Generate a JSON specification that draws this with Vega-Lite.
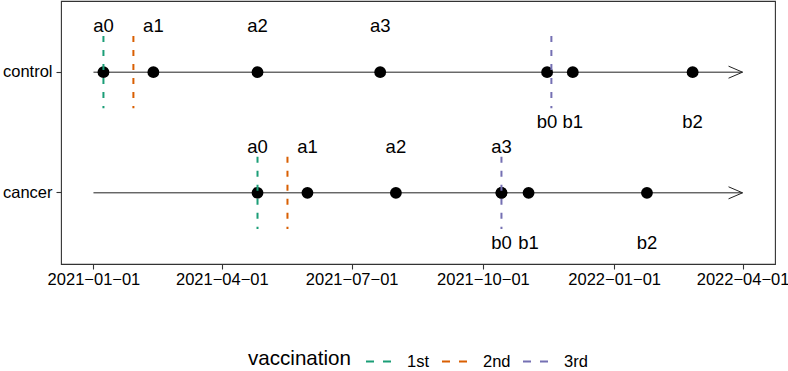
{
  "$schema": "https://vega.github.io/schema/vega-lite/v6.json",
  "width": 714,
  "height": 263,
  "autosize": {"type": "none"},
  "padding": {"left": 61, "top": 1, "right": 13, "bottom": 107},
  "background": "white",
  "config": {
    "font": "Liberation Sans",
    "view": {"stroke": "#333333", "strokeWidth": 1.1},
    "axis": {
      "domain": false,
      "grid": false,
      "tickColor": "#333333",
      "tickSize": 5,
      "tickWidth": 1.1,
      "labelColor": "#000000",
      "labelFontSize": 16.5,
      "title": null
    },
    "legend": {
      "orient": "none",
      "legendX": 187,
      "legendY": 347,
      "direction": "horizontal",
      "titleOrient": "left",
      "titleFontSize": 20.6,
      "titleFontWeight": "normal",
      "titleColor": "#000000",
      "titleBaseline": "middle",
      "labelFontSize": 16.5,
      "labelColor": "#000000",
      "symbolType": "stroke",
      "symbolSize": 625,
      "symbolStrokeWidth": 2,
      "symbolDash": [8, 9],
      "titlePadding": 13,
      "labelOffset": 15,
      "columnPadding": 8
    }
  },
  "datasets": {
    "events": [
      {"group": "control", "label": "a0", "kind": "a", "date": "2021-01-08"},
      {"group": "control", "label": "a1", "kind": "a", "date": "2021-02-12"},
      {"group": "control", "label": "a2", "kind": "a", "date": "2021-04-26"},
      {"group": "control", "label": "a3", "kind": "a", "date": "2021-07-21"},
      {"group": "control", "label": "b0", "kind": "b", "date": "2021-11-15"},
      {"group": "control", "label": "b1", "kind": "b", "date": "2021-12-03"},
      {"group": "control", "label": "b2", "kind": "b", "date": "2022-02-25"},
      {"group": "cancer", "label": "a0", "kind": "a", "date": "2021-04-26"},
      {"group": "cancer", "label": "a1", "kind": "a", "date": "2021-05-31"},
      {"group": "cancer", "label": "a2", "kind": "a", "date": "2021-08-01"},
      {"group": "cancer", "label": "a3", "kind": "a", "date": "2021-10-14"},
      {"group": "cancer", "label": "b0", "kind": "b", "date": "2021-10-14"},
      {"group": "cancer", "label": "b1", "kind": "b", "date": "2021-11-02"},
      {"group": "cancer", "label": "b2", "kind": "b", "date": "2022-01-24"}
    ],
    "vaccination": [
      {"group": "control", "dose": "1st", "date": "2021-01-08"},
      {"group": "control", "dose": "2nd", "date": "2021-01-29"},
      {"group": "control", "dose": "3rd", "date": "2021-11-18"},
      {"group": "cancer", "dose": "1st", "date": "2021-04-26"},
      {"group": "cancer", "dose": "2nd", "date": "2021-05-17"},
      {"group": "cancer", "dose": "3rd", "date": "2021-10-14"}
    ],
    "timeline": [
      {"group": "control", "start": "2021-01-01", "end": "2022-04-01"},
      {"group": "cancer", "start": "2021-01-01", "end": "2022-04-01"}
    ]
  },
  "layer": [
    {
      "data": {"name": "timeline"},
      "mark": {"type": "rule", "color": "#222222", "strokeWidth": 1},
      "encoding": {
        "y": {
          "field": "group",
          "type": "nominal",
          "scale": {"type": "band", "domain": ["control", "cancer"], "paddingInner": 0.4, "paddingOuter": 0.29},
          "axis": {"labelPadding": 4, "title": null}
        },
        "x": {
          "field": "start",
          "type": "temporal",
          "scale": {
            "type": "utc",
            "domain": [
              {"year": 2020, "month": 12, "date": 9, "hours": 6, "utc": true},
              {"year": 2022, "month": 4, "date": 23, "hours": 18, "utc": true}
            ]
          },
          "axis": {
            "values": [
              {"year": 2021, "month": 1, "date": 1, "utc": true},
              {"year": 2021, "month": 4, "date": 1, "utc": true},
              {"year": 2021, "month": 7, "date": 1, "utc": true},
              {"year": 2021, "month": 10, "date": 1, "utc": true},
              {"year": 2022, "month": 1, "date": 1, "utc": true},
              {"year": 2022, "month": 4, "date": 1, "utc": true}
            ],
            "labelExpr": "utcFormat(datum.value, '%Y−%m−%d')",
            "labelPadding": 2,
            "labelOverlap": false,
            "labelBound": false,
            "labelFlush": false,
            "title": null
          }
        },
        "x2": {"field": "end"}
      }
    },
    {
      "data": {"name": "timeline"},
      "mark": {
        "type": "point",
        "shape": "M-1,-0.43L0,0L-1,0.43",
        "size": 784,
        "filled": false,
        "stroke": "#222222",
        "strokeWidth": 1,
        "opacity": 1
      },
      "encoding": {
        "y": {"field": "group", "type": "nominal"},
        "x": {"field": "end", "type": "temporal"}
      }
    },
    {
      "data": {"name": "events"},
      "mark": {"type": "circle", "size": 140, "color": "#000000", "opacity": 1},
      "encoding": {
        "y": {"field": "group", "type": "nominal"},
        "x": {"field": "date", "type": "temporal"}
      }
    },
    {
      "data": {"name": "vaccination"},
      "mark": {"type": "rule", "strokeDash": [6, 8], "strokeWidth": 2},
      "encoding": {
        "x": {"field": "date", "type": "temporal"},
        "y": {"field": "group", "type": "nominal", "bandPosition": 0},
        "y2": {"field": "group", "bandPosition": 1},
        "color": {
          "field": "dose",
          "type": "nominal",
          "scale": {"domain": ["1st", "2nd", "3rd"], "range": ["#1B9E77", "#D95F02", "#7570B3"]},
          "legend": {"title": "vaccination"}
        }
      }
    },
    {
      "data": {"name": "events"},
      "transform": [{"filter": "datum.kind == 'a'"}],
      "mark": {"type": "text", "dy": -46, "fontSize": 18.5, "baseline": "middle", "color": "#000000"},
      "encoding": {
        "y": {"field": "group", "type": "nominal"},
        "x": {"field": "date", "type": "temporal"},
        "text": {"field": "label"}
      }
    },
    {
      "data": {"name": "events"},
      "transform": [{"filter": "datum.kind == 'b'"}],
      "mark": {"type": "text", "dy": 50, "fontSize": 18.5, "baseline": "middle", "color": "#000000"},
      "encoding": {
        "y": {"field": "group", "type": "nominal"},
        "x": {"field": "date", "type": "temporal"},
        "text": {"field": "label"}
      }
    }
  ]
}
